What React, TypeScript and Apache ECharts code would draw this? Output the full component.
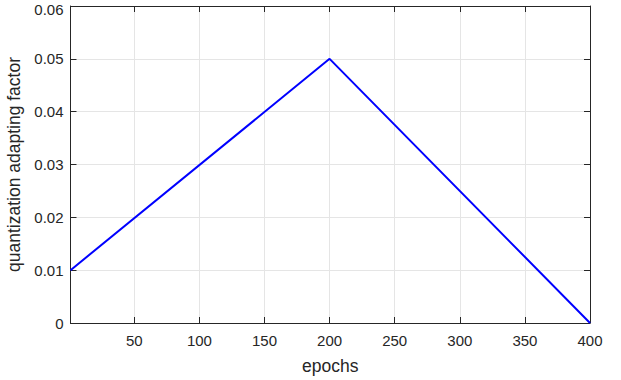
import React, { useEffect, useRef } from "react";
import * as echarts from "echarts";

const epochs = [1, 200, 400];
const factor = [0.01, 0.05, 0];
const xTicks = [50, 100, 150, 200, 250, 300, 350, 400];
const yTicks = [0, 0.01, 0.02, 0.03, 0.04, 0.05, 0.06];

export default function App() {
  const ref = useRef<HTMLDivElement>(null);
  useEffect(() => {
    const chart = echarts.init(ref.current!, null, { renderer: "svg" });
    const font = "'Liberation Sans', Arial, Helvetica, sans-serif";
    const axisLine = { show: true, onZero: false, lineStyle: { color: "#262626", width: 1 } };
    const tick = { show: true, inside: true, length: 6, lineStyle: { color: "#262626" } };
    chart.setOption({
      animation: false,
      backgroundColor: "#ffffff",
      grid: { left: 70.5, right: 31, top: 6, bottom: 57, containLabel: false, outerBoundsMode: "none" },
      xAxis: [
        {
          type: "value",
          min: 1,
          max: 400,
          name: "epochs",
          nameLocation: "middle",
          nameGap: 34,
          nameTextStyle: { color: "#262626", fontSize: 17.5, fontFamily: font },
          axisLine,
          axisTick: { ...tick, customValues: xTicks },
          axisLabel: { customValues: xTicks, color: "#262626", fontSize: 15, fontFamily: font, margin: 10 },
          splitLine: { show: true, lineStyle: { color: "#e5e5e5", width: 1 } },
        },
        {
          type: "value",
          position: "top",
          min: 1,
          max: 400,
          axisLine,
          axisTick: { ...tick, customValues: xTicks },
          axisLabel: { show: false, customValues: xTicks },
          splitLine: { show: false },
        },
      ],
      yAxis: [
        {
          type: "value",
          min: 0,
          max: 0.06,
          interval: 0.01,
          name: "quantization adapting factor",
          nameLocation: "middle",
          nameGap: 45,
          nameTextStyle: { color: "#262626", fontSize: 17.5, fontFamily: font },
          axisLine,
          axisTick: tick,
          axisLabel: {
            color: "#262626",
            fontSize: 15,
            fontFamily: font,
            margin: 7,
            formatter: (v: number) => {
              const t = yTicks.find((y) => Math.abs(y - v) < 1e-9);
              if (t === undefined) return "";
              return t === 0.06 ? "{top|0.06}" : String(t);
            },
            rich: {
              top: { fontSize: 15, fontFamily: font, color: "#262626", padding: [7, 0, 0, 0] },
            },
          },
          splitLine: { show: true, lineStyle: { color: "#e5e5e5", width: 1 } },
        },
        {
          type: "value",
          position: "right",
          min: 0,
          max: 0.06,
          interval: 0.01,
          axisLine,
          axisTick: tick,
          axisLabel: { show: false },
          splitLine: { show: false },
        },
      ],
      series: [
        {
          type: "line",
          data: epochs.map((e, i) => [e, factor[i]]),
          showSymbol: false,
          symbol: "none",
          lineStyle: { color: "#0000ff", width: 2 },
          z: 5,
        },
      ],
    });
    return () => chart.dispose();
  }, []);
  return <div ref={ref} style={{ width: 621, height: 380, position: "absolute", left: 0, top: 0 }} />;
}
